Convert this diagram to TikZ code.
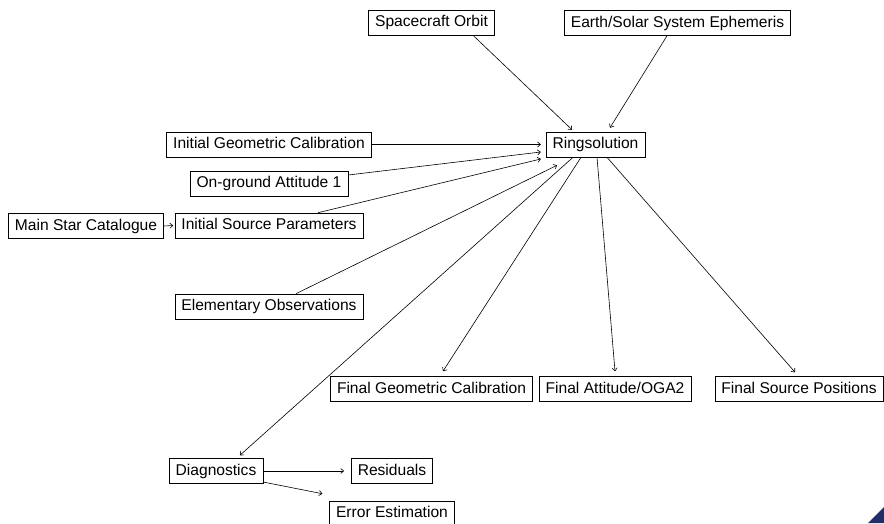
\documentclass[tikz,border=0pt]{standalone}
\usepackage{fontspec}
\setmainfont{Liberation Sans}
\usetikzlibrary{arrows.meta}
\definecolor{logo}{RGB}{35,45,105}
\begin{document}
\begin{tikzpicture}[x=1pt,y=-1pt,
  box/.style={draw, line width=0.6pt, font=\fontsize{15.6}{18}\selectfont,
    inner xsep=6.5pt, inner ysep=0pt, text height=11.5pt, text depth=3pt, minimum height=25pt},
  conn/.style={line width=0.6pt, -{To[length=3.5pt,width=5.5pt]}}]
\path[use as bounding box] (0,0) rectangle (884,523);
\node[box] (orbit) at (431.5,22.5) {Spacecraft Orbit};
\node[box] (eph) at (677.5,23) {Earth/Solar System Ephemeris};
\node[box] (ring) at (595.5,144.5) {Ringsolution};
\node[box] (igc) at (269,144.5) {Initial Geometric Calibration};
\node[box] (oga) at (269,183.5) {On-ground Attitude 1};
\node[box] (isp) at (269,225.5) {Initial Source Parameters};
\node[box] (msc) at (86,226) {Main Star Catalogue};
\node[box] (eo) at (269,306.5) {Elementary Observations};
\node[box] (fgc) at (431.5,389) {Final Geometric Calibration};
\node[box] (fa) at (615,389) {Final Attitude/OGA2};
\node[box] (fsp) at (799,389) {Final Source Positions};
\node[box] (diag) at (216,471) {Diagnostics};
\node[box] (res) at (392,471) {Residuals};
\node[box] (err) at (392,513.5) {Error Estimation};
\draw[conn] ([xshift=41.5pt]orbit.south) -- ([xshift=-23.5pt,yshift=2pt]ring.north);
\draw[conn] ([xshift=-10.5pt]eph.south) -- ([xshift=14.5pt,yshift=4pt]ring.north);
\draw[conn] (igc.east) -- ([xshift=-5pt]ring.west);
\draw[conn] ([yshift=8.5pt]oga.east) -- ([xshift=-5pt,yshift=-7.5pt]ring.west);
\draw[conn] ([xshift=49pt]isp.north) -- ([xshift=-5pt,yshift=-14.5pt]ring.west);
\draw[conn] ([xshift=27pt]eo.north) -- ([xshift=-38.5pt,yshift=-8pt]ring.south);
\draw[conn] ([xshift=-14.5pt]ring.south) -- ([xshift=11.5pt,yshift=5pt]fgc.north);
\draw[conn] ([xshift=-22.5pt]ring.south) -- ([xshift=24pt,yshift=3pt]diag.north);
\draw[conn] ([xshift=1.5pt]ring.south) -- ([yshift=5pt]fa.north);
\draw[conn] ([xshift=11.5pt]ring.south) -- ([xshift=-4pt,yshift=4pt]fsp.north);
\draw[conn] (msc.east) -- ([xshift=-1.5pt]isp.west);
\draw[conn] (diag.east) -- ([xshift=-7pt]res.west);
\draw[conn] ([yshift=-11pt]diag.east) -- ([xshift=-7pt,yshift=7pt]err.north west);
\fill[logo] (868,523) -- (884,507) -- (884,523) -- cycle;
\end{tikzpicture}
\end{document}
